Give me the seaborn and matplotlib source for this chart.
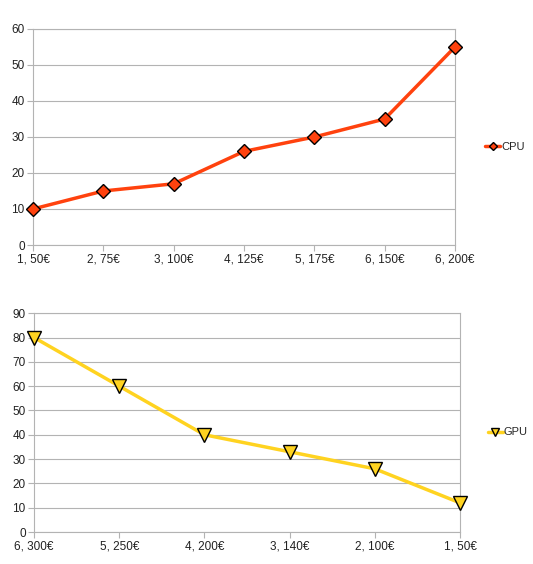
import matplotlib
matplotlib.use("Agg")
import matplotlib.pyplot as plt
import seaborn as sns
import pandas as pd

cpu_labels = ["1, 50€", "2, 75€", "3, 100€", "4, 125€", "5, 175€", "6, 150€", "6, 200€"]
cpu_values = [10, 15, 17, 26, 30, 35, 55]

gpu_labels = ["6, 300€", "5, 250€", "4, 200€", "3, 140€", "2, 100€", "1, 50€"]
gpu_values = [80, 60, 40, 33, 26, 12]

sns.set_style("white")
plt.rcParams['font.family'] = ['Liberation Sans', 'DejaVu Sans']

grid_col = "#b3b3b3"

fig = plt.figure(figsize=(5.33, 5.64), dpi=100)
ax1 = fig.add_axes([0.0619, 0.5656, 0.7917, 0.383])
ax2 = fig.add_axes([0.0638, 0.0567, 0.7992, 0.388])


def draw(ax, labels, values, name, color, marker, msize, ymax, leg_x):
    df = pd.DataFrame({"x": labels, "y": values})
    sns.lineplot(data=df, x="x", y="y", sort=False, ax=ax, color=color,
                 linewidth=2.5, marker=marker, markersize=msize,
                 markeredgecolor="black", markeredgewidth=1.0,
                 markerfacecolor=color, label=name, clip_on=False, zorder=3)
    ax.set_xlim(0, len(labels) - 1)
    ax.set_ylim(0, ymax)
    ax.set_yticks(range(0, ymax + 1, 10))
    ax.set_xticks(range(len(labels)))
    ax.set_xticklabels(labels)
    ax.set_xlabel("")
    ax.set_ylabel("")
    ax.grid(axis="y", color=grid_col, linewidth=0.8)
    ax.set_axisbelow(True)
    for sp in ax.spines.values():
        sp.set_color(grid_col)
        sp.set_linewidth(0.8)
    ax.tick_params(axis="both", direction="out", length=4, width=0.8,
                   color=grid_col, labelsize=8.5, labelcolor="#222222", pad=2,
                   left=True, bottom=True)
    ax.legend(loc="center left", bbox_to_anchor=(leg_x, 0.455), frameon=False,
              handlelength=1.3, handletextpad=0.1, fontsize=8,
              markerscale=0.6, borderpad=0, borderaxespad=0)


draw(ax1, cpu_labels, cpu_values, "CPU", "#ff420e", "D", 7, 60, 1.072)
draw(ax2, gpu_labels, gpu_values, "GPU", "#ffd320", "v", 9.5, 90, 1.066)

fig.savefig("out.png", dpi=100)
